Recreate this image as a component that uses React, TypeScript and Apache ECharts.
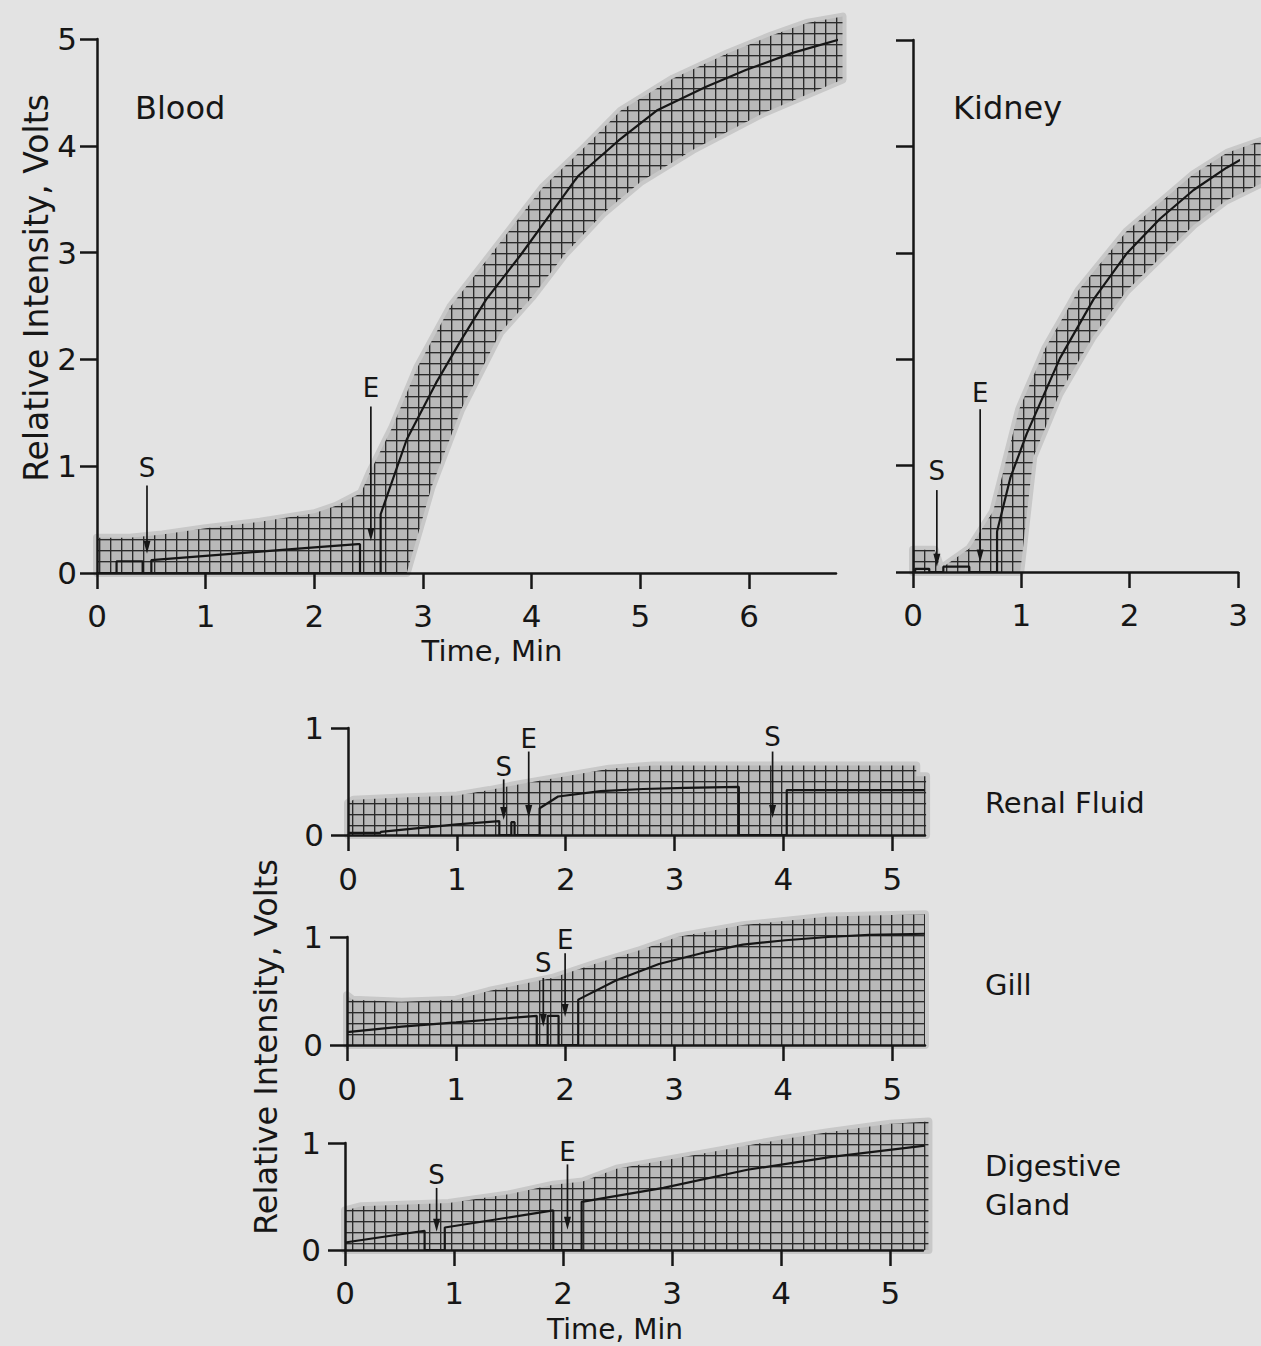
import React, { useEffect, useRef } from 'react';
import * as echarts from 'echarts';

// ---------- data ----------
const bloodTrace = [[0, 0], [0.18, 0], [0.18, 0.11], [0.42, 0.11], [0.42, 0], [0.5, 0], [0.5, 0.12], [1.0, 0.16], [1.5, 0.2], [2.0, 0.24], [2.4, 0.27], [2.42, 0.27], [2.42, 0], [2.61, 0], [2.61, 0.55], [2.85, 1.25], [3.12, 1.78], [3.35, 2.18], [3.58, 2.56], [3.9, 2.98], [4.2, 3.4], [4.4, 3.68], [4.43, 3.72], [4.8, 4.05], [5.15, 4.33], [5.6, 4.55], [5.97, 4.71], [6.4, 4.87], [6.88, 5.01]];
const bloodUpper = [[0, 0.33], [0.3, 0.33], [0.6, 0.36], [1.0, 0.42], [1.5, 0.48], [2.0, 0.56], [2.2, 0.63], [2.43, 0.75], [2.51, 0.94], [2.72, 1.37], [2.95, 1.93], [3.25, 2.49], [3.6, 2.95], [4.1, 3.61], [4.5, 4.0], [4.82, 4.33], [5.3, 4.63], [5.81, 4.87], [6.2, 5.03], [6.53, 5.15], [6.86, 5.21]];
const bloodLower = [[0, 0], [2.85, 0], [3.08, 0.81], [3.35, 1.53], [3.71, 2.25], [4.0, 2.58], [4.3, 2.98], [4.66, 3.37], [5.0, 3.66], [5.48, 3.96], [6.14, 4.31], [6.86, 4.62]];
const bloodMarks = [
  { name: 'S', x: 0.46, text: 0.98, top: 0.82, bottom: 0.18 },
  { name: 'E', x: 2.52, text: 1.73, top: 1.56, bottom: 0.3 },
];

const kidneyTrace = [[0, 0], [0.02, 0], [0.02, 0.03], [0.15, 0.03], [0.15, 0], [0.28, 0], [0.28, 0.05], [0.52, 0.05], [0.52, 0], [0.776, 0], [0.776, 0.38], [0.9, 0.89], [1.05, 1.3], [1.357, 2.01], [1.665, 2.56], [1.97, 2.99], [2.28, 3.32], [2.59, 3.59], [2.895, 3.8], [3.17, 3.96]];
const kidneyUpper = [[0, 0.21], [0.2, 0.21], [0.25, 0.05], [0.28, 0.05], [0.52, 0.22], [0.74, 0.57], [0.98, 1.53], [1.22, 2.1], [1.53, 2.65], [1.97, 3.2], [2.59, 3.74], [2.9, 3.94], [3.21, 4.05]];
const kidneyLower = [[0, 0], [0.99, 0], [1.11, 1.08], [1.35, 1.67], [1.66, 2.21], [1.97, 2.64], [2.28, 2.95], [2.59, 3.26], [2.89, 3.49], [3.21, 3.65]];
const kidneyMarks = [
  { name: 'S', x: 0.22, text: 0.95, top: 0.77, bottom: 0.05 },
  { name: 'E', x: 0.62, text: 1.68, top: 1.53, bottom: 0.09 },
];

const renalTrace = [[0, 0.02], [0.3, 0.02], [0.3, 0.03], [0.6, 0.06], [1.0, 0.1], [1.39, 0.13], [1.39, 0], [1.5, 0], [1.5, 0.12], [1.53, 0.12], [1.53, 0], [1.76, 0], [1.76, 0.25], [1.93, 0.36], [2.32, 0.41], [2.71, 0.43], [3.1, 0.44], [3.59, 0.45], [3.59, 0], [4.03, 0], [4.03, 0.42], [5.3, 0.42]];
const renalUpper = [[0, 0.3], [0.05, 0.33], [0.5, 0.35], [1.0, 0.37], [1.3, 0.42], [1.6, 0.48], [2.0, 0.55], [2.4, 0.62], [2.8, 0.65], [5.22, 0.65], [5.22, 0.55], [5.31, 0.55]];
const renalLower = [[0, 0], [5.31, 0]];
const renalMarks = [
  { name: 'S', x: 1.43, text: 0.64, top: 0.52, bottom: 0.14 },
  { name: 'E', x: 1.66, text: 0.9, top: 0.78, bottom: 0.16 },
  { name: 'S', x: 3.9, text: 0.92, top: 0.78, bottom: 0.16 },
];

const gillTrace = [[0, 0.12], [0.5, 0.17], [1.0, 0.21], [1.74, 0.27], [1.74, 0], [1.84, 0], [1.84, 0.27], [1.94, 0.27], [1.94, 0], [2.12, 0], [2.12, 0.42], [2.47, 0.6], [2.86, 0.75], [3.25, 0.85], [3.63, 0.93], [4.02, 0.97], [4.41, 1.0], [4.79, 1.02], [5.3, 1.03]];
const gillUpper = [[0, 0.46], [0.05, 0.42], [0.5, 0.4], [1.0, 0.42], [1.3, 0.5], [1.88, 0.62], [2.3, 0.76], [2.69, 0.88], [3.03, 1.0], [3.63, 1.11], [4.41, 1.19], [5.3, 1.21]];
const gillLower = [[0, 0], [5.3, 0]];
const gillMarks = [
  { name: 'S', x: 1.8, text: 0.76, top: 0.62, bottom: 0.17 },
  { name: 'E', x: 2.0, text: 0.97, top: 0.85, bottom: 0.26 },
];

const digestiveTrace = [[0, 0.07], [0.73, 0.18], [0.73, 0], [0.915, 0], [0.915, 0.21], [1.91, 0.37], [1.91, 0], [2.17, 0], [2.17, 0.45], [2.92, 0.58], [3.69, 0.75], [4.46, 0.87], [5.35, 0.98]];
const digestiveUpper = [[0, 0.37], [0.15, 0.41], [0.95, 0.44], [1.5, 0.52], [1.91, 0.61], [2.18, 0.64], [2.49, 0.76], [3.27, 0.9], [4.04, 1.04], [4.43, 1.1], [5.0, 1.18], [5.35, 1.2]];
const digestiveLower = [[0, 0], [5.35, 0]];
const digestiveMarks = [
  { name: 'S', x: 0.84, text: 0.7, top: 0.58, bottom: 0.17 },
  { name: 'E', x: 2.04, text: 0.92, top: 0.8, bottom: 0.19 },
];

const bloodXTicks = [0, 1, 2, 3, 4, 5, 6];
const kidneyXTicks = [0, 1, 2, 3];
const lowerXTicks = [0, 1, 2, 3, 4, 5];
const bigYTicks = [0, 1, 2, 3, 4, 5];
const smallYTicks = [0, 1];

// ---------- styles ----------
const BG = '#e3e3e3';
const INK = '#161616';
const FONT = '"DejaVu Sans", sans-serif';

export default function App() {
  const ref = useRef<HTMLDivElement>(null);

  useEffect(() => {
    document.body.style.margin = '0';
    document.body.style.background = BG;
    const chart = echarts.init(ref.current as HTMLDivElement, null, { renderer: 'svg' });

    // chart-paper grid pattern
    const cv = document.createElement('canvas');
    cv.width = 11;
    cv.height = 11;
    const ctx = cv.getContext('2d') as CanvasRenderingContext2D;
    ctx.fillStyle = '#b9b9b9';
    ctx.fillRect(0, 0, 11, 11);
    ctx.fillStyle = '#2a2a2a';
    ctx.fillRect(0, 0, 11, 1);
    ctx.fillRect(0, 0, 1, 11);
    ctx.fillStyle = 'rgba(40,40,40,0.35)';
    ctx.fillRect(0, 1, 11, 1);
    ctx.fillRect(1, 0, 1, 11);
    const pattern: any = { image: cv, repeat: 'repeat' };

    const grids = [
      { left: 97, top: 39, width: 739, height: 534 },
      { left: 913, top: 40, width: 325, height: 532 },
      { left: 348, top: 728, width: 577, height: 107 },
      { left: 347, top: 937, width: 578, height: 108 },
      { left: 345, top: 1143, width: 578, height: 107 },
    ];

    const axisLineStyle = { color: INK, width: 2.5 };
    const labelStyle = { fontSize: 31, fontFamily: FONT, color: INK };

    const mkX = (gi: number, max: number, ticks: number[], margin: number) => ({
      type: 'value', gridIndex: gi, min: 0, max, z: 6,
      axisLine: { show: true, onZero: false, lineStyle: axisLineStyle },
      axisTick: { show: true, inside: false, length: 16, lineStyle: axisLineStyle, customValues: ticks },
      axisLabel: { show: true, margin, customValues: ticks, ...labelStyle },
      splitLine: { show: false },
    });
    const mkY = (gi: number, max: number, ticks: number[], showLabel: boolean, margin: number) => ({
      type: 'value', gridIndex: gi, min: 0, max, interval: 1, z: 6,
      axisLine: { show: true, onZero: false, lineStyle: axisLineStyle },
      axisTick: { show: true, inside: false, length: 17, lineStyle: axisLineStyle, customValues: ticks },
      axisLabel: { show: showLabel, margin, customValues: ticks, ...labelStyle },
      splitLine: { show: false },
    });

    const band = (gi: number, upper: number[][], lower: number[][]) => ({
      type: 'custom', xAxisIndex: gi, yAxisIndex: gi, clip: false, silent: true, z: 1,
      data: [upper[0]],
      renderItem: (_p: any, api: any) => {
        const pts = upper.map((p) => api.coord(p)).concat(lower.slice().reverse().map((p) => api.coord(p)));
        return {
          type: 'group',
          children: [
            { type: 'polygon', shape: { points: pts }, style: { fill: '#c4c4c4', stroke: '#c8c8c8', lineWidth: 8, lineJoin: 'round' } },
            { type: 'polygon', shape: { points: pts }, style: { fill: pattern } },
          ],
        };
      },
    });

    const trace = (gi: number, data: number[][]) => ({
      type: 'line', xAxisIndex: gi, yAxisIndex: gi, data, showSymbol: false, symbol: 'none',
      clip: false, silent: true, z: 3, lineStyle: { color: INK, width: 2.2 },
    });

    const marks = (gi: number, ms: { name: string; x: number; text: number; top: number; bottom: number }[]) => ({
      type: 'custom', xAxisIndex: gi, yAxisIndex: gi, clip: false, silent: true, z: 4,
      data: ms.map((m) => [m.x, m.top, m.bottom, m.text]),
      renderItem: (params: any, api: any) => {
        const m = ms[params.dataIndex];
        const x = api.value(0);
        const p1 = api.coord([x, api.value(1)]);
        const p2 = api.coord([x, api.value(2)]);
        const pt = api.coord([x, api.value(3)]);
        return {
          type: 'group',
          children: [
            { type: 'line', shape: { x1: p1[0], y1: p1[1], x2: p2[0], y2: p2[1] - 8 }, style: { stroke: INK, lineWidth: 1.7 } },
            { type: 'polygon', shape: { points: [[p2[0] - 3.5, p2[1] - 13], [p2[0] + 3.5, p2[1] - 13], [p2[0], p2[1]]] }, style: { fill: INK } },
            { type: 'text', x: pt[0], y: pt[1], style: { text: m.name, fill: INK, font: '26px ' + FONT, align: 'center', verticalAlign: 'middle', textAlign: 'center', textVerticalAlign: 'middle' } },
          ],
        };
      },
    });

    const txt = (text: string, x: number, y: number, size: number, align = 'left', rotation = 0) => ({
      type: 'text', x, y, rotation, silent: true,
      style: { text, fill: INK, font: `${size}px ${FONT}`, align, verticalAlign: 'middle', textAlign: align, textVerticalAlign: 'middle' },
    });

    const option: any = {
      animation: false,
      backgroundColor: BG,
      grid: grids.map((g) => ({ ...g, containLabel: false, outerBoundsMode: 'none' })),
      xAxis: [
        mkX(0, 6.8, bloodXTicks, 27),
        mkX(1, 3, kidneyXTicks, 27),
        mkX(2, 5.3, lowerXTicks, 28),
        mkX(3, 5.3, lowerXTicks, 28),
        mkX(4, 5.3, lowerXTicks, 27),
      ],
      yAxis: [
        mkY(0, 5, bigYTicks, true, 20),
        mkY(1, 5, bigYTicks, false, 20),
        mkY(2, 1, smallYTicks, true, 24),
        mkY(3, 1, smallYTicks, true, 24),
        mkY(4, 1, smallYTicks, true, 24),
      ],
      series: [
        band(0, bloodUpper, bloodLower), trace(0, bloodTrace), marks(0, bloodMarks),
        band(1, kidneyUpper, kidneyLower), trace(1, kidneyTrace), marks(1, kidneyMarks),
        band(2, renalUpper, renalLower), trace(2, renalTrace), marks(2, renalMarks),
        band(3, gillUpper, gillLower), trace(3, gillTrace), marks(3, gillMarks),
        band(4, digestiveUpper, digestiveLower), trace(4, digestiveTrace), marks(4, digestiveMarks),
      ],
      graphic: [
        txt('Blood', 135, 108, 32),
        txt('Kidney', 953, 108, 32),
        txt('Renal Fluid', 985, 803, 29),
        txt('Gill', 985, 985, 29),
        txt('Digestive', 985, 1166, 29),
        txt('Gland', 985, 1205, 29),
        txt('Relative Intensity, Volts', 36, 288, 33, 'center', Math.PI / 2),
        txt('Relative Intensity, Volts', 266, 1047, 32, 'center', Math.PI / 2),
        txt('Time, Min', 492, 651, 29, 'center'),
        txt('Time, Min', 615, 1329, 28, 'center'),
      ],
    };

    chart.setOption(option);
    return () => chart.dispose();
  }, []);

  return <div ref={ref} style={{ width: 1261, height: 1346 }} />;
}
